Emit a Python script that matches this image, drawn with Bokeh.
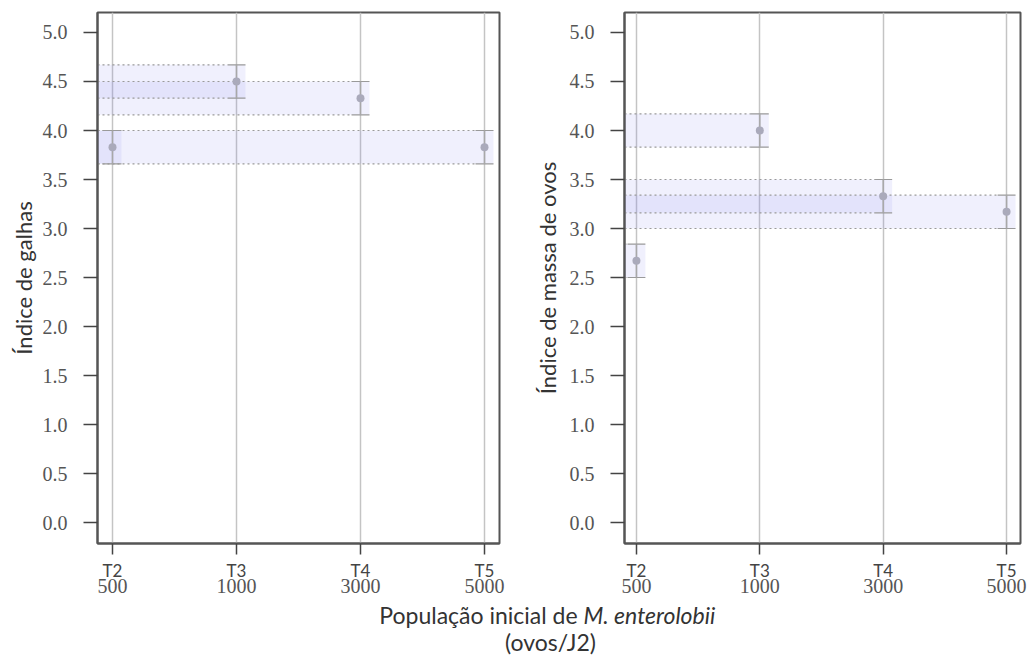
from bokeh.plotting import figure
from bokeh.models import FixedTicker, Label, PrintfTickFormatter, Range1d, LinearAxis
from bokeh.layouts import column, row
from bokeh.embed import file_html
from bokeh.resources import INLINE

# ---- data ----
treatments = ["T2", "T3", "T4", "T5"]
populations = ["500", "1000", "3000", "5000"]
galhas_mean = [3.83, 4.50, 4.33, 3.83]
galhas_err = [0.17, 0.17, 0.17, 0.17]
massa_mean = [2.67, 4.00, 3.33, 3.17]
massa_err = [0.17, 0.17, 0.17, 0.17]
y_ticks = [0.0, 0.5, 1.0, 1.5, 2.0, 2.5, 3.0, 3.5, 4.0, 4.5, 5.0]
y_label_left = "Índice de galhas"
y_label_right = "Índice de massa de ovos"
x_title_plain = "População inicial de "
x_title_italic = "M. enterolobii"
x_title_line2 = "(ovos/J2)"

SANS = "Lato"
SERIF = "Liberation Serif"
BAND = "#8c8cf0"
DOT = "#9a9a9a"
PT = "#aaaabb"
GRID = "#c4c4c4"
DARK = "#555555"


def panel(means, errs, ylabel, width, bl, br, xs, xe, title_standoff):
    p = figure(width=width, height=600, output_backend="svg", toolbar_location=None,
               x_range=Range1d(xs, xe), y_range=Range1d(-0.214, 5.204),
               min_border_left=bl, min_border_right=br, min_border_top=12,
               min_border_bottom=57, background_fill_color="white",
               border_fill_color="white")
    p.outline_line_color = DARK
    p.outline_line_width = 2
    xi = list(range(len(treatments)))
    hw = 9 / 124.0
    lo = [m - e for m, e in zip(means, errs)]
    hi = [m + e for m, e in zip(means, errs)]
    # shaded bands from left edge to each point
    p.quad(left=[xs] * len(xi), right=[x + hw for x in xi], bottom=lo, top=hi,
           fill_color=BAND, fill_alpha=0.13, line_color=None)
    # dotted guide lines
    for ys in (lo, hi):
        p.segment(x0=[xs] * len(xi), x1=[x - hw for x in xi], y0=ys, y1=ys,
                  line_color=DOT, line_dash="2 3", line_width=1.2)
        p.segment(x0=[x - hw for x in xi], x1=[x + hw for x in xi], y0=ys, y1=ys,
                  line_color=DOT, line_width=1.2)
    p.segment(x0=xi, x1=xi, y0=lo, y1=hi, line_color="#a8a8a8", line_width=1.5)
    p.scatter(x=xi, y=means, size=8, fill_color=PT, line_color=None)

    p.xgrid.ticker = FixedTicker(ticks=xi)
    p.xgrid.grid_line_color = GRID
    p.xgrid.grid_line_width = 1.5
    p.ygrid.grid_line_color = None

    # treatment names axis (closest to frame)
    ax = p.xaxis[0]
    ax.ticker = FixedTicker(ticks=xi)
    ax.major_label_overrides = {i: treatments[i] for i in xi}
    ax.axis_line_color = DARK
    ax.axis_line_width = 2
    ax.major_tick_line_color = "#444444"
    ax.major_tick_line_width = 1.5
    ax.major_tick_in = 0
    ax.major_tick_out = 11
    ax.minor_tick_line_color = None
    ax.major_label_standoff = 5
    ax.major_label_text_font = SANS
    ax.major_label_text_font_size = "17px"
    ax.major_label_text_color = "#444444"

    # population axis (below treatment names)
    ax2 = LinearAxis(ticker=FixedTicker(ticks=xi),
                     major_label_overrides={i: populations[i] for i in xi})
    ax2.axis_line_color = None
    ax2.major_tick_line_color = None
    ax2.minor_tick_line_color = None
    ax2.major_label_standoff = -11
    ax2.major_label_text_font = SERIF
    ax2.major_label_text_font_size = "20px"
    ax2.major_label_text_color = "#555555"
    p.add_layout(ax2, "below")

    ay = p.yaxis[0]
    ay.ticker = FixedTicker(ticks=y_ticks)
    ay.formatter = PrintfTickFormatter(format="%.1f")
    ay.axis_line_color = DARK
    ay.axis_line_width = 2
    ay.major_tick_line_color = "#444444"
    ay.major_tick_line_width = 1.5
    ay.major_tick_in = 0
    ay.major_tick_out = 14
    ay.minor_tick_line_color = None
    ay.major_label_standoff = 16
    ay.major_label_text_font = SERIF
    ay.major_label_text_font_size = "20px"
    ay.major_label_text_color = "#555555"
    ay.axis_label = ylabel
    ay.axis_label_text_font = SANS
    ay.axis_label_text_font_size = "22px"
    ay.axis_label_text_font_style = "normal"
    ay.axis_label_text_color = "#333333"
    ay.axis_label_standoff = title_standoff
    return p


p1 = panel(galhas_mean, galhas_err, y_label_left, 530, 97, 31, -15 / 124, 3 + 15 / 124, 3)
p2 = panel(massa_mean, massa_err, y_label_right, 503, 92, 13, -12 / 124, 3 + 14 / 124, 6)

p3 = figure(width=1033, height=56, output_backend="svg", toolbar_location=None,
            x_range=Range1d(0, 1033), y_range=Range1d(0, 56), min_border=0)
p3.axis.visible = False
p3.grid.grid_line_color = None
p3.outline_line_color = None
split = 583
p3.add_layout(Label(x=split, y=28, text=x_title_plain, text_align="right",
                    text_baseline="bottom", text_font=SANS, text_font_size="23px",
                    text_color="#333333"))
p3.add_layout(Label(x=split, y=28, text=x_title_italic, text_align="left",
                    text_baseline="bottom", text_font=SANS, text_font_size="23px",
                    text_font_style="italic", text_color="#333333"))
p3.add_layout(Label(x=550, y=1, text=x_title_line2, text_align="center",
                    text_baseline="bottom", text_font=SANS, text_font_size="23px",
                    text_color="#333333"))

layout = column(row(p1, p2), p3)
open("out.html", "w").write(file_html(layout, INLINE))
